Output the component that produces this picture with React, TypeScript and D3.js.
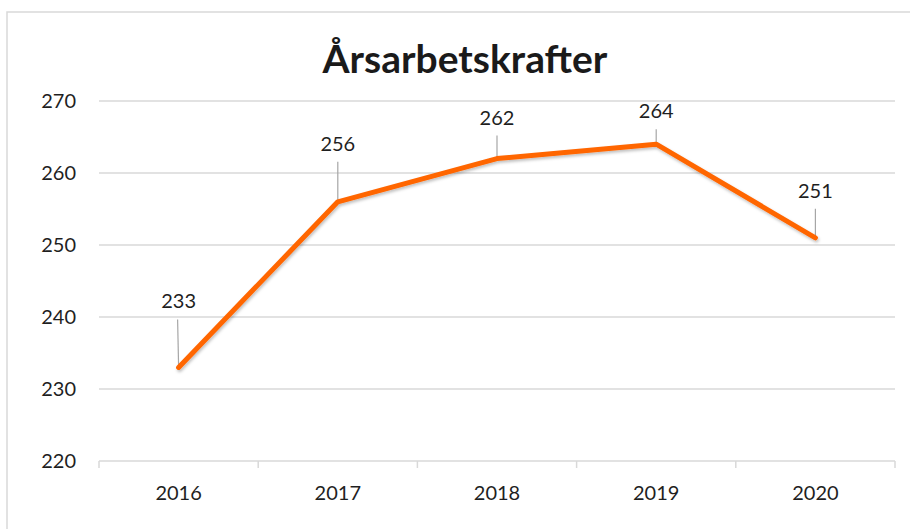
import React from "react";
import * as d3 from "d3";

const categories = ["2016", "2017", "2018", "2019", "2020"];
const values = [233, 256, 262, 264, 251];
const yTicks = [220, 230, 240, 250, 260, 270];
const title = "Årsarbetskrafter";
// label offset above point (px)
const labelLift = [66, 58, 41, 33, 47];

const W = 910;
const H = 529;
const FONT = "Lato, 'Open Sans', sans-serif";

export default function App() {
  const x = d3.scaleBand<string>().domain(categories).range([99, 895]);
  const y = d3.scaleLinear().domain([220, 270]).range([461, 101]);
  const cx = (c: string) => (x(c) as number) + x.bandwidth() / 2;
  const line = d3
    .line<number>()
    .x((_, i) => cx(categories[i]))
    .y((d) => y(d));
  const bounds = [...categories.map((c) => x(c) as number), 895];

  return (
    <svg
      width={W}
      height={H}
      style={{ position: "absolute", left: 0, top: 0, background: "#fff" }}
    >
      <defs>
        <filter id="sh" x="-10%" y="-10%" width="120%" height="130%">
          <feDropShadow dx="1" dy="2" stdDeviation="1.5" floodColor="#000" floodOpacity="0.25" />
        </filter>
      </defs>
      <rect x={7} y={12} width={W + 10} height={H + 10} fill="#fff" stroke="#d9d9d9" strokeWidth={1.5} />
      <text
        x={465}
        y={73}
        textAnchor="middle"
        fontFamily={FONT}
        fontWeight="bold"
        fontSize={39}
        fill="#1a1a1a"
      >
        {title}
      </text>
      {yTicks.map((t) => (
        <g key={t}>
          {t !== 220 && (
            <line x1={99} x2={895} y1={y(t)} y2={y(t)} stroke="#d9d9d9" strokeWidth={1.3} />
          )}
          <text
            x={76}
            y={y(t) + 7}
            textAnchor="end"
            fontFamily={FONT}
            fontSize={20}
            fill="#1f1f1f"
          >
            {t}
          </text>
        </g>
      ))}
      <line x1={99} x2={895} y1={y(220)} y2={y(220)} stroke="#d9d9d9" strokeWidth={1.5} />
      {bounds.map((b, i) => (
        <line key={i} x1={b} x2={b} y1={y(220)} y2={y(220) + 7} stroke="#d9d9d9" strokeWidth={1.5} />
      ))}
      {categories.map((c) => (
        <text
          key={c}
          x={cx(c)}
          y={500}
          textAnchor="middle"
          fontFamily={FONT}
          fontSize={20}
          fill="#1f1f1f"
        >
          {c}
        </text>
      ))}
      {values.map((v, i) => {
        const px = cx(categories[i]);
        const py = y(v);
        const ly = py - labelLift[i];
        return (
          <g key={i}>
            <line
              x1={px - (i === 0 ? 1 : 0)}
              x2={px}
              y1={ly + 18}
              y2={py - 1}
              stroke="#a6a6a6"
              strokeWidth={1.2}
            />
            <text
              x={px}
              y={ly + 7}
              textAnchor="middle"
              fontFamily={FONT}
              fontSize={20}
              fill="#1f1f1f"
            >
              {v}
            </text>
          </g>
        );
      })}
      <path
        d={line(values) || ""}
        fill="none"
        stroke="#ff6600"
        strokeWidth={5}
        strokeLinejoin="round"
        strokeLinecap="round"
        filter="url(#sh)"
      />
    </svg>
  );
}
